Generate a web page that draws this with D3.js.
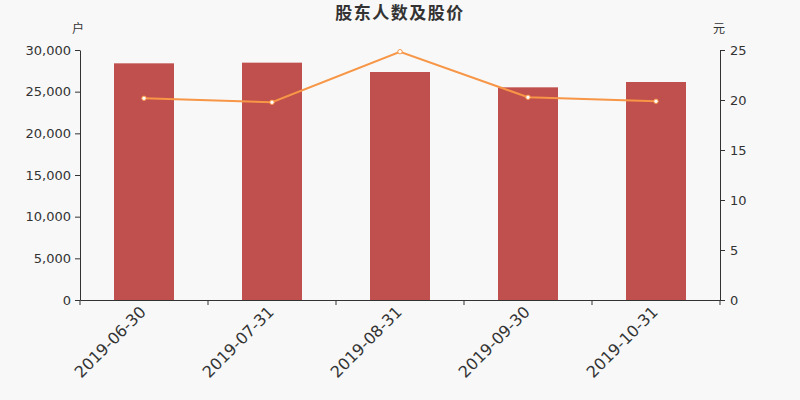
<!DOCTYPE html>
<html><head><meta charset="utf-8">
<script src="https://cdn.jsdelivr.net/npm/d3@7"></script>
<style>body{margin:0;background:#f8f8f8;}svg{display:block;}</style>
</head><body>
<svg id="c" width="800" height="400"></svg>
<script>
const categories = ["2019-06-30","2019-07-31","2019-08-31","2019-09-30","2019-10-31"];
const holders = [28400, 28480, 27360, 25520, 26160];
const prices = [20.17, 19.77, 24.83, 20.27, 19.87];
const leftTicks = [0,5000,10000,15000,20000,25000,30000];
const rightTicks = [0,5,10,15,20,25];

const svg = d3.select("#c");
const font = "'DejaVu Sans', sans-serif";
const L=80, R=720, T=50, B=300;
svg.append("rect").attr("width",800).attr("height",400).attr("fill","#f8f8f8");

const x = d3.scaleBand().domain(categories).range([L,R]);
const yL = d3.scaleLinear().domain([0,30000]).range([B,T]);
const yR = d3.scaleLinear().domain([0,25]).range([B,T]);

svg.append("text").attr("x",400).attr("y",19).attr("text-anchor","middle")
  .attr("font-family","'Noto Sans CJK SC', sans-serif").attr("font-weight","bold")
  .attr("font-size",17).attr("fill","#333").attr("letter-spacing",1.5).text("股东人数及股价");
svg.append("text").attr("x",78).attr("y",33).attr("text-anchor","middle")
  .attr("font-family","'Noto Sans CJK SC', sans-serif").attr("font-size",12).attr("fill","#333").text("户");
svg.append("text").attr("x",719).attr("y",33).attr("text-anchor","middle")
  .attr("font-family","'Noto Sans CJK SC', sans-serif").attr("font-size",12).attr("fill","#333").text("元");

const bw = 60;
svg.selectAll(".bar").data(holders).enter().append("rect")
  .attr("x",(d,i)=>x(categories[i])+x.bandwidth()/2-bw/2)
  .attr("y",d=>yL(d)).attr("width",bw).attr("height",d=>B-yL(d)).attr("fill","#c0504d");

const fmt = d3.format(",");
const gL = svg.append("g").attr("transform",`translate(${L},0)`)
  .call(d3.axisLeft(yL).tickValues(leftTicks).tickFormat(fmt).tickSize(5).tickSizeOuter(0).tickPadding(4));
const gR = svg.append("g").attr("transform",`translate(${R},0)`)
  .call(d3.axisRight(yR).tickValues(rightTicks).tickSize(5).tickSizeOuter(0).tickPadding(5));
const gX = svg.append("g").attr("transform",`translate(0,${B})`)
  .call(d3.axisBottom(x).tickSize(5).tickSizeOuter(0).tickFormat(""));
gX.selectAll(".tick").remove();
const bounds = categories.map(c=>x(c)).concat([R]);
gX.selectAll(".bt").data(bounds).enter().append("line")
  .attr("x1",d=>d).attr("x2",d=>d).attr("y1",0).attr("y2",5).attr("stroke","#333");

[gL,gR,gX].forEach(g=>{
  g.selectAll("path,line").attr("stroke","#333");
  g.selectAll("text").attr("font-family",font).attr("font-size",13).attr("fill","#333");
});

svg.selectAll(".xl").data(categories).enter().append("text")
  .attr("transform",d=>`translate(${x(d)+x.bandwidth()/2+3},${B+13}) rotate(-45)`)
  .attr("text-anchor","end").attr("font-family",font).attr("font-size",16).attr("fill","#333")
  .text(d=>d);

const line = d3.line().x((d,i)=>x(categories[i])+x.bandwidth()/2).y(d=>yR(d));
svg.append("path").datum(prices).attr("d",line).attr("fill","none")
  .attr("stroke","#f79646").attr("stroke-width",2);
svg.selectAll(".pt").data(prices).enter().append("circle")
  .attr("cx",(d,i)=>x(categories[i])+x.bandwidth()/2).attr("cy",d=>yR(d)).attr("r",2.2)
  .attr("fill","#fff").attr("stroke","#f79646").attr("stroke-width",1);
</script>
</body></html>
